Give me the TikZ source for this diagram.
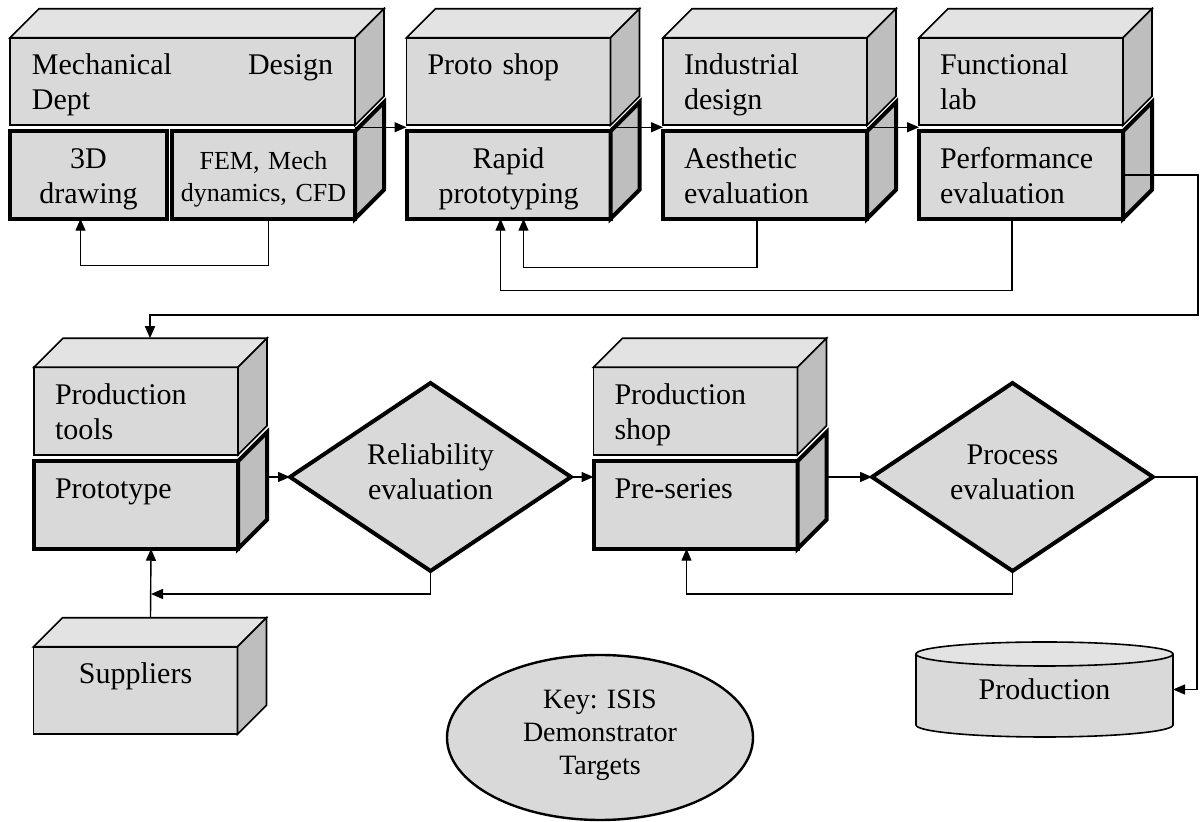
\documentclass[tikz,border=0pt]{standalone}
\usepackage{fontspec}
\setmainfont{Liberation Serif}
\usetikzlibrary{arrows.meta,shapes.geometric,calc}

\definecolor{facegray}{RGB}{217,217,217}
\definecolor{topgray}{RGB}{227,227,227}
\definecolor{sidegray}{RGB}{190,190,190}

\tikzset{
  face/.style={draw, fill=facegray, line width=0.8pt, inner sep=0pt, outer sep=0pt,
    font=\fontsize{15}{17.5}\selectfont,
    execute at begin node={\rule{0pt}{\dimexpr0.7\baselineskip+4pt\relax}},
    execute at end node=\strut},
  deptbox/.style={face, minimum width=102pt, minimum height=43.75pt, text width=81pt, align=left},
  taskbox/.style={deptbox, line width=2pt},
  decision/.style={face, diamond, line width=2pt, aspect=1.5, minimum width=140.5pt,
    minimum height=94pt, align=center},
  keynote/.style={face, ellipse, line width=1.2pt, minimum width=153pt, minimum height=82.5pt,
    align=center, font=\fontsize{14}{16.5}\selectfont},
  drum/.style={fill=facegray, inner sep=0pt, outer sep=0pt, minimum width=128.5pt,
    minimum height=35.5pt, font=\fontsize{15}{17.5}\selectfont},
  topface/.style={draw, fill=topgray, line width=0.8pt},
  sideface/.style={draw, fill=sidegray, line width=0.8pt},
  flow/.style={-{Triangle[length=6pt,width=5pt]}, line width=0.7pt}
}

\begin{document}
\begin{tikzpicture}[x=0.5pt, y=0.5pt]
  \path[use as bounding box, fill=white] (0,0) rectangle (1201,-822);

  % first row: departments and their tasks
  \node[deptbox, minimum width=172.5pt, text width=150.5pt] (mdd) at (182.5,-81.5) {Mechanical \hfill Design\\Dept};
  \node[taskbox, minimum width=78.5pt, text width=70pt, align=center] (draw3d) at (88.5,-175) {3D\\drawing};
  \node[taskbox, minimum width=91.5pt, text width=86pt, align=center, font=\fontsize{13}{16}\selectfont] (fem) at (263.5,-175) {FEM, Mech\\dynamics, CFD};
  \node[deptbox] (proto) at (508.5,-81.5) {Proto shop\\\strut};
  \node[taskbox, align=center] (rapid) at (508.5,-175) {Rapid\\prototyping};
  \node[deptbox] (ind) at (765,-81.5) {Industrial\\design};
  \node[taskbox] (aes) at (765,-175) {Aesthetic\\evaluation};
  \node[deptbox] (func) at (1021,-81.5) {Functional\\lab};
  \node[taskbox] (perf) at (1021,-175) {Performance\\evaluation};

  % second row
  \node[deptbox] (ptools) at (136,-411) {Production\\tools};
  \node[taskbox] (ptype) at (136,-505) {Prototype\\\strut};
  \node[decision] (rel) at (430.5,-477) {Reliability\\evaluation};
  \node[deptbox] (pshop) at (695.5,-411) {Production\\shop};
  \node[taskbox] (preser) at (695.5,-505) {Pre-series\\\strut};
  \node[decision] (proc) at (1012.5,-477) {Process\\evaluation};

  % bottom row
  \node[deptbox, align=center] (sup) at (135.5,-690.5) {Suppliers\\\strut};
  \node[keynote] (key) at (600,-737.5) {Key: ISIS\\Demonstrator\\Targets};
  \node[drum] (prod) at (1044.5,-689.5) {Production};

  % 3D look of the boxes
  \foreach \n in {mdd,proto,ind,func,ptools,pshop,sup}{
    \draw[topface] (\n.north west) -- ++(29,29) -- ([shift={(29,29)}]\n.north east) -- (\n.north east) -- cycle;
    \draw[sideface] (\n.north east) -- ++(29,29) -- ([shift={(29,29)}]\n.south east) -- (\n.south east) -- cycle;
  }
  \foreach \n in {fem,rapid,aes,perf,ptype,preser}
    \draw[sideface, line width=2pt] (\n.north east) -- ++(29,29) -- ([shift={(29,29)}]\n.south east) -- (\n.south east) -- cycle;

  % drum
  \fill[facegray] (prod.south west) arc[start angle=180, end angle=360, x radius=128.5, y radius=12] -- cycle;
  \draw[line width=0.8pt] (prod.north west) -- (prod.south west) arc[start angle=180, end angle=360, x radius=128.5, y radius=12] -- (prod.north east);
  \filldraw[fill=topgray, line width=0.8pt] (prod.north) ellipse[x radius=128.5, y radius=12];

  % first row flow and loops
  \draw[flow] ([yshift=-1pt]mdd.south east) -- ([yshift=-1pt]proto.south west);
  \draw[flow] ([yshift=-1pt]proto.south east) -- ([yshift=-1pt]ind.south west);
  \draw[flow] ([yshift=-1pt]ind.south east) -- ([yshift=-1pt]func.south west);
  \draw[flow] ([xshift=2.5pt]fem.south) -- ++(0,-46.5) -| ([xshift=-4pt]draw3d.south);
  \draw[flow] ([xshift=-4pt]aes.south) -- ++(0,-48.5) -| ([xshift=7.5pt]rapid.south);
  \draw[flow] ([xshift=-4.5pt]perf.south) -- ++(0,-71.5) -| ([xshift=-4pt]rapid.south);
  \draw[flow] (perf.east) -- ++(75,0) -- ++(0,-140) -| ([shift={(14,29)}]ptools.north);

  % second row flow and loops
  \draw[flow] ($(rel.west -| ptype.east)+(30,0)$) -- (rel.west);
  \draw[flow] (rel.east) -- (rel.east -| preser.west);
  \draw[flow] ($(proc.west -| preser.east)+(30,0)$) -- (proc.west);
  \coordinate (supjoin) at (151,-594);
  \draw[flow] (rel.south) |- (supjoin);
  \draw[flow] ([shift={(15,29)}]sup.north) -- ([xshift=7.5pt]ptype.south);
  \draw[flow] (proc.south) -- ++(0,-23) -| ([xshift=-4.5pt]preser.south);
  \draw[flow] (proc.east) -- ++(44,0) |- (prod.east);
\end{tikzpicture}
\end{document}
